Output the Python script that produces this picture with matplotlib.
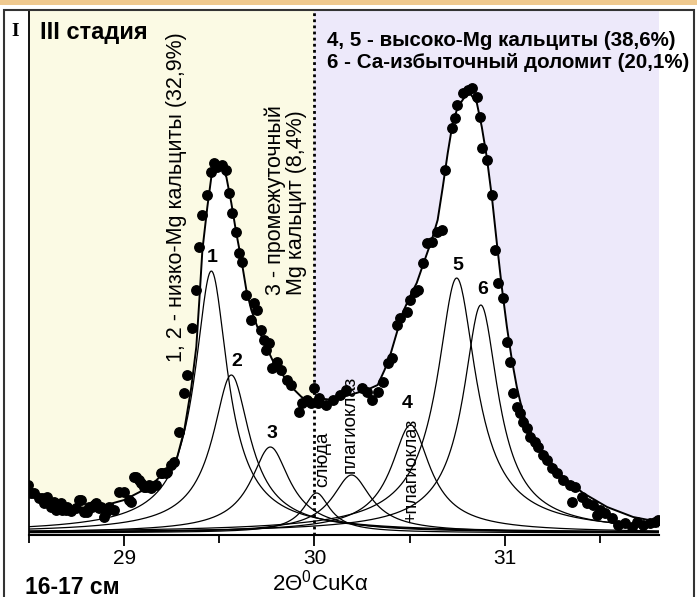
import numpy as np
import matplotlib
matplotlib.use('Agg')
import matplotlib.pyplot as plt
from matplotlib.patches import Rectangle

plt.rcParams['font.family'] = ['Liberation Sans', 'DejaVu Sans']
plt.rcParams['mathtext.fontset'] = 'custom'
plt.rcParams['mathtext.rm'] = 'Liberation Sans'

# измеренные точки (2Theta, интенсивность)
pts_x = [28.495, 28.508, 28.526, 28.553, 28.568, 28.579, 28.595, 28.616, 28.632, 28.642,
         28.668, 28.674, 28.695, 28.700, 28.721, 28.747, 28.763, 28.774, 28.789, 28.805,
         28.816, 28.832, 28.842, 28.853, 28.868, 28.879, 28.895, 28.905, 28.921, 28.947,
         28.974, 29.000, 29.026, 29.037, 29.053, 29.063, 29.079, 29.089, 29.105, 29.116,
         29.132, 29.142, 29.168, 29.195, 29.200, 29.221, 29.226, 29.247, 29.263, 29.289,
         29.316, 29.332, 29.358, 29.379, 29.395, 29.411, 29.437, 29.458, 29.474, 29.489,
         29.516, 29.537, 29.553, 29.568, 29.589, 29.605, 29.621, 29.642, 29.668, 29.684,
         29.700, 29.721, 29.737, 29.745, 29.763, 29.779, 29.805, 29.826, 29.858, 29.879,
         29.921, 29.932, 29.958, 29.984, 30.000, 30.016, 30.026, 30.063, 30.095, 30.132,
         30.168, 30.247, 30.274, 30.300, 30.332, 30.358, 30.384, 30.405, 30.432, 30.447,
         30.484, 30.500, 30.526, 30.542, 30.568, 30.589, 30.616, 30.642, 30.668, 30.684,
         30.721, 30.737, 30.747, 30.779, 30.805, 30.826, 30.853, 30.868, 30.879, 30.905,
         30.932, 30.947, 30.963, 30.989, 31.011, 31.026, 31.042, 31.063, 31.079, 31.095,
         31.116, 31.132, 31.158, 31.174, 31.200, 31.221, 31.247, 31.274, 31.305, 31.342,
         31.353, 31.368, 31.405, 31.432, 31.463, 31.484, 31.500, 31.526, 31.563, 31.595,
         31.632, 31.668, 31.695, 31.726, 31.763, 31.789, 31.805]
pts_y = [50, 42, 42, 37, 37, 32, 38, 28, 33, 25,
         32, 25, 25, 28, 24, 27, 35, 35, 23, 23,
         28, 28, 30, 32, 27, 28, 18, 23, 28, 25,
         43, 43, 35, 33, 58, 58, 55, 52, 48, 48,
         50, 47, 50, 62, 62, 62, 63, 70, 73, 103,
         142, 160, 207, 245, 288, 320, 340, 363, 372, 368,
         370, 365, 342, 322, 303, 282, 273, 240, 215, 232,
         225, 205, 195, 185, 192, 167, 173, 165, 155, 150,
         123, 132, 135, 132, 147, 132, 137, 130, 135, 140,
         145, 147, 143, 135, 143, 153, 172, 177, 210, 217,
         223, 235, 243, 245, 272, 292, 293, 303, 305, 365,
         407, 417, 430, 442, 445, 447, 438, 418, 387, 375,
         340, 285, 252, 237, 193, 173, 142, 128, 122, 113,
         107, 98, 93, 88, 80, 75, 67, 62, 55, 50,
         33, 48, 38, 32, 30, 20, 25, 22, 17, 10,
         12, 8, 13, 10, 12, 13, 15]

# огибающая
env_x = [28.500, 28.695, 28.868, 29.000, 29.132, 29.253, 29.279, 29.316, 29.353, 29.379,
         29.395, 29.411, 29.437, 29.458, 29.479, 29.511, 29.537, 29.563, 29.589, 29.616,
         29.642, 29.668, 29.700, 29.737, 29.779, 29.826, 29.879, 29.932, 29.984, 30.011,
         30.095, 30.184, 30.274, 30.332, 30.368, 30.395, 30.432, 30.463, 30.500, 30.537,
         30.579, 30.616, 30.647, 30.674, 30.700, 30.726, 30.753, 30.789, 30.816, 30.853,
         30.879, 30.905, 30.932, 30.958, 30.984, 31.011, 31.037, 31.063, 31.095, 31.147,
         31.221, 31.305, 31.411, 31.537, 31.674, 31.810]
env_y = [45, 27, 28, 35, 48, 70, 78, 105, 148, 188,
         235, 285, 328, 358, 370, 368, 358, 332, 302, 275,
         245, 225, 208, 192, 175, 162, 148, 138, 133, 137,
         135, 140, 145, 150, 165, 178, 202, 222, 238, 252,
         275, 295, 315, 348, 382, 412, 428, 438, 442, 432,
         408, 378, 338, 292, 248, 208, 175, 148, 122, 98,
         78, 58, 42, 28, 18, 13]

# разложение на пики: положение, высота, полуширина
peak_pos = [29.458, 29.563, 29.768, 30.011, 30.195, 30.505, 30.747, 30.874]
peak_h = [262, 158, 86, 40, 58, 108, 255, 228]
peak_w = [0.11, 0.125, 0.13, 0.09, 0.13, 0.13, 0.13, 0.117]
base = 2


def pearson7(x, c, h, w, m=0.8):
    return h * (1 + ((x - c) / w) ** 2 * (2 ** (1 / m) - 1)) ** (-m)


fig = plt.figure(figsize=(6.97, 5.97), dpi=100)
ax = fig.add_axes([29 / 697, 62 / 597, 630 / 697, 525 / 597])

ax.axvspan(28.5, 30, color='#fbfae4', zorder=0, lw=0)
ax.axvspan(30, 31.81, color='#ede9fa', zorder=0, lw=0)
ax.fill_between(env_x, 0, env_y, color='white', zorder=1, lw=0)

xx = np.linspace(28.5, 31.81, 700)
for c, h, w in zip(peak_pos, peak_h, peak_w):
    ax.plot(xx, base + pearson7(xx, c, h, w), color='black', lw=0.9, zorder=2)

ax.axvline(30, color='black', ls=(0, (1, 1.2)), lw=2, zorder=2.5)
ax.plot(env_x, env_y, color='black', lw=1.4, zorder=3)
ax.plot(pts_x, pts_y, 'o', color='black', ms=6.8, zorder=4)

ax.set_xlim(28.5, 31.81)
ax.set_ylim(0, 525)
ax.set_yticks([])
ax.set_xticks([29, 30, 31])
ax.set_xticks([28.5, 29.5, 30.5, 31.5], minor=True)
ax.tick_params(axis='x', which='major', direction='out', length=8, width=1.3,
               labelsize=15, pad=2)
ax.tick_params(axis='x', which='minor', direction='out', length=5.5, width=1.3)
ax.spines['top'].set_visible(False)
ax.spines['right'].set_visible(False)
ax.spines['left'].set_linewidth(1.3)
ax.spines['bottom'].set_linewidth(1.5)

# подписи пиков
nums = ['1', '2', '3', '4', '5', '6']
num_x = [29.463, 29.589, 29.779, 30.489, 30.753, 30.884]
num_y = [278, 173, 102, 132, 270, 245]
for t, x, y in zip(nums, num_x, num_y):
    ax.text(x, y, t, fontsize=14, fontweight='bold', ha='center', va='center', zorder=5)

ax.text(29.274, 173, '1, 2 - низко-Mg кальциты (32,9%)', rotation=90,
        fontsize=15.5, ha='center', va='bottom', zorder=5)
ax.text(29.847, 240, '3 - промежуточный\nMg кальцит (8,4%)', rotation=90,
        fontsize=15.5, ha='center', va='bottom', multialignment='left',
        linespacing=1.0, zorder=5)
ax.text(30.042, 48, 'слюда', rotation=90, fontsize=13.5, ha='center', va='bottom', zorder=5)
ax.text(30.186, 62, 'плагиоклаз', rotation=90, fontsize=13.5, ha='center', va='bottom', zorder=5)
ax.text(30.511, 12, '+плагиоклаз', rotation=90, fontsize=13, ha='center', va='bottom', zorder=5)

ax.text(28.558, 503, 'III стадия', fontsize=17, fontweight='bold', va='center', zorder=5)
ax.text(30.068, 495, '4, 5 - высоко-Mg кальциты (38,6%)', fontsize=14.8,
        fontweight='bold', va='center', zorder=5, clip_on=False)
ax.text(30.068, 473, '6 - Са-избыточный доломит (20,1%)', fontsize=14.8,
        fontweight='bold', va='center', zorder=5, clip_on=False)

fig.text(15 / 697, 565 / 597, 'I', fontsize=14, fontweight='bold',
         family='Liberation Serif', ha='center', va='center')
fig.text(25 / 697, 10 / 597, '16-17 см', fontsize=16.5, fontweight='bold', va='center')
fig.text(320 / 697, 2 / 597, r'2Θ$^{0}$CuKα', fontsize=16, ha='center', va='bottom')

# рамка
fig.add_artist(Rectangle((0, 592 / 597), 1, 5 / 597, transform=fig.transFigure,
                         color='#efc98f', lw=0))
fig.add_artist(Rectangle((4 / 697, -0.05), 690 / 697, 0.05 + 587 / 597,
                         transform=fig.transFigure, fill=False, lw=1.5, ec='#333333'))

fig.savefig('out.png', dpi=100)
